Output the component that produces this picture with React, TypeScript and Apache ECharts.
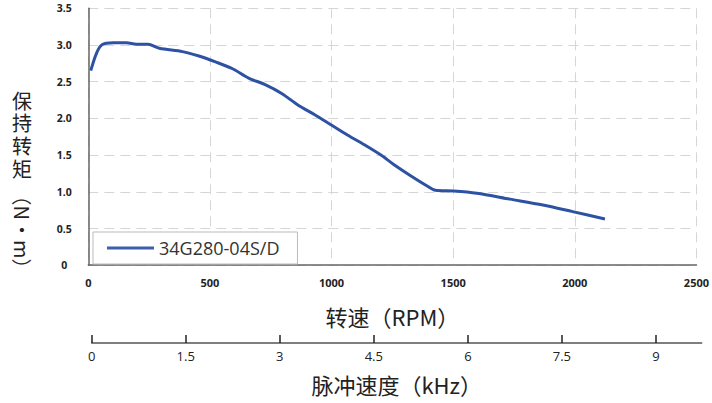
import React, { useEffect, useRef } from "react";
import * as echarts from "echarts";

const seriesName = "34G280-04S/D";
const rpm = [10, 34, 55, 102, 157, 197, 245, 292, 387, 455, 523, 591, 659, 727, 795, 863, 931, 999, 1067, 1135, 1203, 1257, 1325, 1393, 1427, 1502, 1597, 1733, 1869, 1991, 2124];
const torque = [2.65, 2.89, 3.0, 3.03, 3.03, 3.01, 3.01, 2.955, 2.91, 2.85, 2.77, 2.68, 2.55, 2.46, 2.34, 2.18, 2.05, 1.91, 1.77, 1.64, 1.5, 1.37, 1.22, 1.08, 1.02, 1.01, 0.98, 0.9, 0.82, 0.73, 0.63];
const khzTicks = [0, 1.5, 3, 4.5, 6, 7.5, 9];
const xTitle = "转速（RPM）";
const x2Title = "脉冲速度（kHz）";
const yTitleChars = ["保", "持", "转", "矩"];
const yTitleUnit = "（N·m）";

const CJK = '"Noto Sans CJK SC", "Noto Sans", sans-serif';
const LAT = '"Open Sans", "Noto Sans", sans-serif';

export default function App() {
  const ref = useRef<HTMLDivElement>(null);
  useEffect(() => {
    if (!ref.current) return;
    const chart = echarts.init(ref.current, null, { renderer: "svg" });
    const dashed = { show: true, lineStyle: { color: "#d6d6d6", width: 1, type: [10, 6] as any } };
    const axisLine = { show: true, lineStyle: { color: "#666", width: 1.5 } };
    const charTexts = yTitleChars.map((c, i) => ({
      type: "text",
      x: 22,
      y: 100 + i * 22.8,
      style: {
        text: c,
        fontSize: 20,
        lineHeight: 20,
        fontFamily: CJK,
        fill: "#222",
        textAlign: "center",
        textVerticalAlign: "middle",
      },
    }));
    chart.setOption({
      animation: false,
      backgroundColor: "#fff",
      grid: [
        { left: 88.3, right: 10.3, top: 8.3, bottom: 137.8 },
        { left: 91.7, width: 610, top: 342, height: 1 },
      ],
      xAxis: [
        {
          type: "value",
          gridIndex: 0,
          min: 0,
          max: 2500,
          interval: 500,
          axisLine,
          axisTick: { show: false },
          splitLine: dashed,
          axisLabel: {
            color: "#222",
            fontSize: 11,
            fontWeight: "bold",
            fontFamily: LAT,
            margin: 12,
            formatter: (v: number) => String(v),
          },
          name: xTitle,
          nameLocation: "middle",
          nameGap: 40,
          nameTextStyle: { color: "#222", fontSize: 22, fontFamily: CJK },
        },
        {
          type: "value",
          gridIndex: 1,
          min: 0,
          max: 9.73,
          axisLine: { show: true, lineStyle: { color: "#555", width: 1.5 } },
          axisTick: { show: true, inside: true, length: 8, customValues: khzTicks, lineStyle: { color: "#222", width: 1.5 } },
          axisLabel: { customValues: khzTicks, color: "#222", fontSize: 13, fontFamily: LAT, margin: 6 },
          splitLine: { show: false },
          name: x2Title,
          nameLocation: "middle",
          nameGap: 30,
          nameTextStyle: { color: "#222", fontSize: 22, fontFamily: CJK },
        },
      ],
      yAxis: [
        {
          type: "value",
          gridIndex: 0,
          min: 0,
          max: 3.5,
          interval: 0.5,
          axisLine,
          axisTick: { show: false },
          splitLine: dashed,
          axisLabel: {
            color: "#222",
            fontSize: 10.5,
            fontWeight: "bold",
            fontFamily: LAT,
            align: "center",
            margin: 24,
            formatter: (v: number) => (v === 0 ? "0" : v.toFixed(1)),
          },
        },
        { type: "value", gridIndex: 1, min: 0, max: 1, show: false },
      ],
      legend: {
        left: 93,
        top: 232,
        padding: [7, 18, 7, 14],
        borderColor: "#bbb",
        borderWidth: 1,
        backgroundColor: "#fff",
        icon: "rect",
        itemWidth: 47,
        itemHeight: 3,
        itemStyle: { color: "#3d5fae" },
        textStyle: { color: "#333", fontSize: 18, fontFamily: LAT },
        data: [seriesName],
      },
      graphic: [
        ...charTexts,
        {
          type: "text",
          x: 22,
          y: 232,
          rotation: -Math.PI / 2,
          style: {
            text: yTitleUnit,
            fontSize: 20,
            fontFamily: CJK,
            fill: "#222",
            textAlign: "center",
            textVerticalAlign: "middle",
          },
        },
      ],
      series: [
        {
          name: seriesName,
          type: "line",
          xAxisIndex: 0,
          yAxisIndex: 0,
          data: rpm.map((r, i) => [r, torque[i]]),
          symbol: "none",
          smooth: 0.3,
          lineStyle: { color: "#2d52a3", width: 3 },
          itemStyle: { color: "#2d52a3" },
        },
      ],
    });
    return () => chart.dispose();
  }, []);
  return <div ref={ref} style={{ position: "fixed", left: 0, top: 0, width: 712, height: 403 }} />;
}
